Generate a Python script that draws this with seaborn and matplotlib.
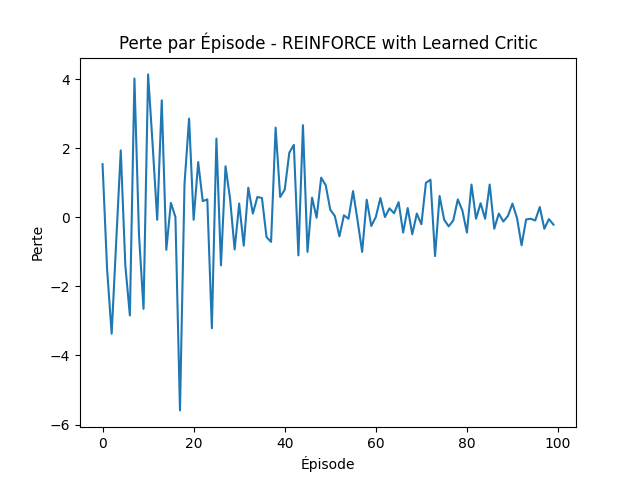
import numpy as np
import pandas as pd
import matplotlib
matplotlib.use("Agg")
import matplotlib.pyplot as plt
import seaborn as sns

# Loss per episode
episodes = list(range(100))
losses = [
    1.54, -1.5, -3.37, -0.7, 1.94, -1.39, -2.84, 4.02, -0.5, -2.65,
    4.14, 2.1, -0.07, 3.39, -0.94, 0.42, 0.01, -5.59, 0.98, 2.86,
    -0.07, 1.6, 0.47, 0.52, -3.21, 2.28, -1.39, 1.48, 0.54, -0.93,
    0.40, -0.82, 0.86, 0.11, 0.59, 0.56, -0.57, -0.71, 2.6, 0.59,
    0.80, 1.87, 2.1, -1.1, 2.67, -1.0, 0.57, -0.01, 1.15, 0.93,
    0.22, 0.04, -0.55, 0.06, -0.04, 0.76, -0.1, -1.0, 0.51, -0.25,
    0.01, 0.56, 0.01, 0.26, 0.12, 0.44, -0.44, 0.27, -0.49, 0.11,
    -0.2, 1.0, 1.09, -1.12, 0.62, -0.07, -0.26, -0.09, 0.52, 0.2,
    -0.44, 0.95, -0.04, 0.41, -0.04, 0.95, -0.33, 0.11, -0.12, 0.04,
    0.40, -0.02, -0.81, -0.06, -0.04, -0.09, 0.30, -0.33, -0.05, -0.21,
]

df = pd.DataFrame({"episode": episodes, "loss": losses})

fig, ax = plt.subplots(figsize=(6.4, 4.8), dpi=100)
sns.lineplot(data=df, x="episode", y="loss", ax=ax, color="#1f77b4", linewidth=1.5)
ax.set_title("Perte par Épisode - REINFORCE with Learned Critic")
ax.set_xlabel("Épisode")
ax.set_ylabel("Perte")
fig.savefig("out.png", dpi=100)
